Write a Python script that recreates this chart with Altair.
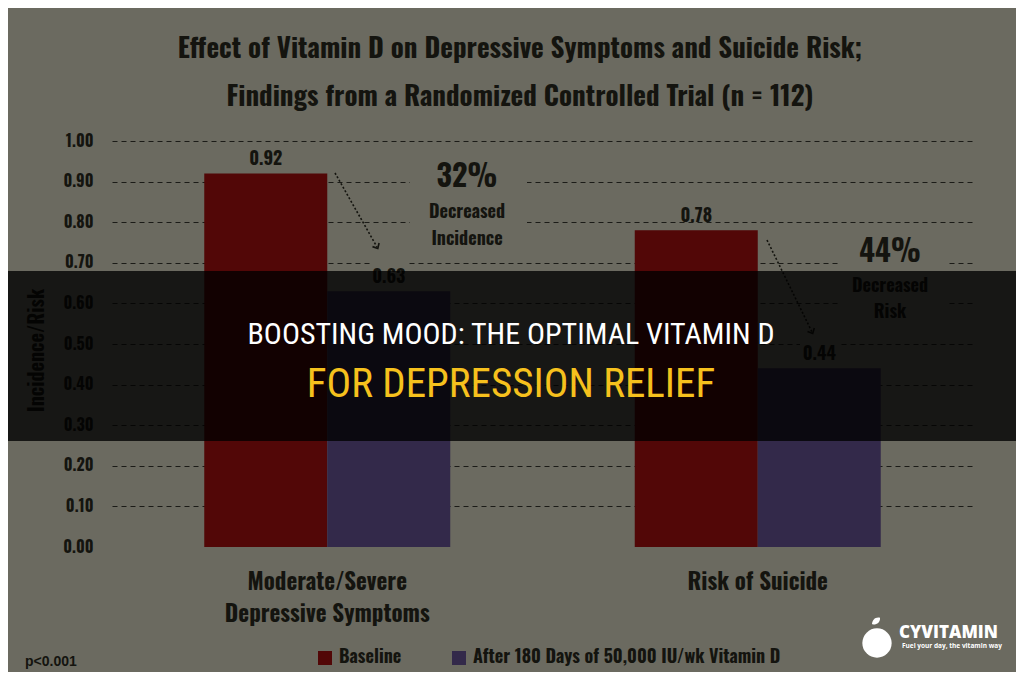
import altair as alt
import pandas as pd

# ---------------- data ----------------
categories = ["Moderate/Severe\nDepressive Symptoms", "Risk of Suicide"]
series = ["Baseline", "After 180 Days of 50,000 IU/wk Vitamin D"]
baseline_values = [0.92, 0.78]
after_values = [0.63, 0.44]
y_ticks = [0.0, 0.1, 0.2, 0.3, 0.4, 0.5, 0.6, 0.7, 0.8, 0.9, 1.0]
title_lines = ["Effect of Vitamin D on Depressive Symptoms and Suicide Risk;",
               "Findings from a Randomized Controlled Trial (n = 112)"]
annotation_1 = ["32%", "Decreased", "Incidence"]
annotation_2 = ["44%", "Decreased", "Risk"]
banner_lines = ["BOOSTING MOOD: THE OPTIMAL VITAMIN D", "FOR DEPRESSION RELIEF"]
footnote = "p<0.001"
brand = ["CYVITAMIN", "Fuel your day, the vitamin way"]

# ---------------- style ----------------
BG = "#6b6a60"
INK = "#14140f"
RED = "#520707"
PURPLE = "#33294a"
YELLOW = "#f6c11d"
FONT = "Oswald"

rows = []
for c, b, a in zip(categories, baseline_values, after_values):
    rows.append({"category": c, "series": series[0], "value": b})
    rows.append({"category": c, "series": series[1], "value": a})
df = pd.DataFrame(rows)

W, H = 861, 406

x_enc = alt.X(
    "category:N", sort=categories, title=None,
    scale=alt.Scale(paddingInner=0.4286, paddingOuter=0.2143),
    axis=alt.Axis(labelFont=FONT, labelFontSize=23, labelFontWeight="bold", labelColor=INK,
                  labelPadding=24, labelBaseline="top", labelLineHeight=32, labelAngle=0,
                  labelLimit=400, domain=False, ticks=False, grid=False,
                  labelExpr="split(datum.label, '\\n')"),
)
xoff_enc = alt.XOffset("series:N", sort=series, scale=alt.Scale(paddingInner=0, paddingOuter=0))
y_enc = alt.Y(
    "value:Q", title="Incidence/Risk",
    scale=alt.Scale(domain=[0, 1], nice=False, zero=True),
    axis=alt.Axis(values=y_ticks, format=".2f", labelFont=FONT, labelFontSize=16,
                  labelFontWeight="bold", labelColor=INK, labelPadding=19, ticks=False,
                  domain=False, grid=True, gridDash=[5, 4], gridColor="#1b1b17", gridWidth=1.2,
                  gridOpacity={"condition": {"test": "datum.value === 0", "value": 0}, "value": 1},
                  titleFont=FONT, titleFontSize=20, titleFontWeight="bold", titleColor=INK,
                  titleX=-75, titleY=209, titleAngle=270, titleAlign="center",
                  titleBaseline="middle"),
)


def txt(t, x, y, size, font=FONT, weight="bold", color=INK, align="center"):
    return alt.Chart(pd.DataFrame({"t": [t]})).mark_text(
        font=font, fontSize=size, fontWeight=weight, color=color, align=align,
        baseline="alphabetic").encode(text="t:N", x=alt.value(x), y=alt.value(y))


def box(x1, x2, y1, y2, color=BG, opacity=1.0):
    return alt.Chart(pd.DataFrame({"a": [0]})).mark_rect(color=color, opacity=opacity).encode(
        x=alt.value(x1), x2=alt.value(x2), y=alt.value(y1), y2=alt.value(y2))


def arrow(x1, y1, x2, y2, angle):
    line = alt.Chart(pd.DataFrame({"a": [0]})).mark_rule(
        color=INK, strokeWidth=1.6, strokeDash=[2, 2]).encode(
        x=alt.value(x1), y=alt.value(y1), x2=alt.value(x2), y2=alt.value(y2))
    head = alt.Chart(pd.DataFrame({"a": [0]})).mark_point(
        shape="M-0.9,-0.6L0,0.4L0.9,-0.6", filled=False, color=INK, strokeWidth=1.6,
        size=70, angle=angle, opacity=1).encode(x=alt.value(x2), y=alt.value(y2))
    return [line, head]


# background boxes behind annotations (break the grid lines)
boxes = [box(298, 415, 15, 112), box(258, 296, 112, 148),
         box(726, 836, 92, 182), box(688, 726, 196, 226)]

bars = alt.Chart(df).mark_bar().encode(
    x=x_enc, xOffset=xoff_enc, y=y_enc,
    color=alt.Color("series:N", sort=series,
                    scale=alt.Scale(domain=series, range=[RED, PURPLE]),
                    legend=alt.Legend(title=None, orient="none", direction="horizontal",
                                      columns=2, legendX=204, legendY=508,
                                      symbolType="square", symbolSize=196,
                                      symbolStrokeWidth=0, symbolOpacity=1,
                                      labelFont=FONT, labelFontSize=18,
                                      labelFontWeight="bold", labelColor=INK,
                                      labelOffset=5, columnPadding=48, labelLimit=500,
                                      padding=0)),
)

value_labels = alt.Chart(df).mark_text(
    font=FONT, fontSize=18, fontWeight="bold", color=INK, dy=-8, baseline="alphabetic"
).encode(x=x_enc, xOffset=xoff_enc, y=y_enc, text=alt.Text("value:Q", format=".2f"))

titles = [txt(title_lines[0], 408, -83, 27), txt(title_lines[1], 408, -35, 27)]

ann = [txt(annotation_1[0], 355, 46, 30), txt(annotation_1[1], 355, 77, 18),
       txt(annotation_1[2], 355, 104, 18),
       txt(annotation_2[0], 778, 121, 30), txt(annotation_2[1], 778, 151, 18),
       txt(annotation_2[2], 778, 177, 18)]

arrows = arrow(223, 32, 265, 106, 331) + arrow(655, 99, 700, 191, 334)

foot = [txt(footnote, -87, 525, 14, font="Liberation Sans", align="left")]

logo_circle = alt.Chart(pd.DataFrame({"a": [0]})).mark_circle(
    color="white", opacity=1, size=860).encode(x=alt.value(765), y=alt.value(502))
logo_leaf = alt.Chart(pd.DataFrame({"a": [0]})).mark_point(
    shape="M0,1C0.7,0.4 0.7,-0.5 0,-1C-0.7,-0.5 -0.7,0.4 0,1Z", filled=True, color="white",
    opacity=1, size=110, angle=50).encode(x=alt.value(764), y=alt.value(480))
logo = [logo_circle, logo_leaf,
        txt(brand[0], 787, 497, 17, font="Open Sans", weight=800, color="white", align="left"),
        txt(brand[1], 790, 507, 6.5, font="Open Sans", weight="bold", color="white",
            align="left")]

overlay = [box(-104, 904, 130, 300, color="black", opacity=0.78)]
banner = [txt(banner_lines[0], 399, 203, 30, font="Roboto Condensed", weight="normal",
              color="white"),
          txt(banner_lines[1], 399, 256, 41, font="Roboto Condensed", weight="normal",
              color=YELLOW)]

chart = alt.layer(
    *boxes, bars, value_labels, *ann, *arrows, *titles, *foot, *logo, *overlay, *banner
).properties(
    width=W, height=H,
    autosize=alt.AutoSizeParams(type="none"),
    padding={"left": 104, "top": 133, "right": 43, "bottom": 125},
).configure(background=BG).configure_view(strokeWidth=0)

chart.save("out.html", embed_options={"renderer": "svg", "actions": False})
